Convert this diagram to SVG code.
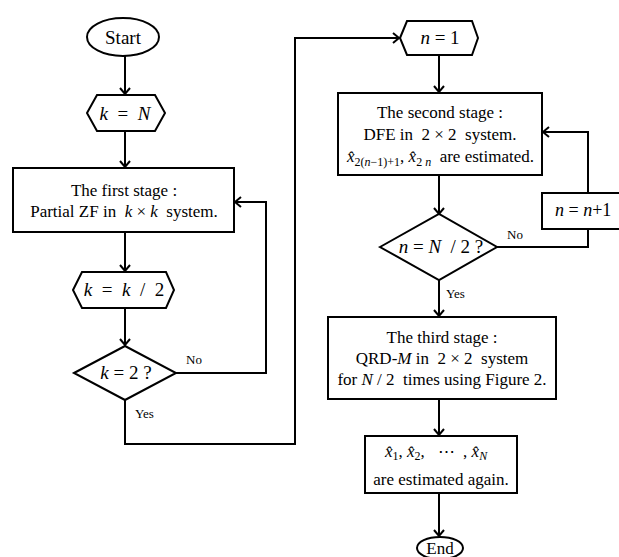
<svg xmlns="http://www.w3.org/2000/svg" width="619" height="557" viewBox="0 0 619 557" font-family="'Liberation Serif', 'DejaVu Serif', 'Times New Roman', serif">
<defs>
<marker id="arr" markerUnits="userSpaceOnUse" markerWidth="14" markerHeight="14" viewBox="-8 -7 10 14" refX="0" refY="0" orient="auto">
<path d="M-6,-5 L0,0 L-6,5" fill="none" stroke="#000" stroke-width="2"/>
</marker>
</defs>
<style>
.s{fill:#fff;stroke:#000;stroke-width:2}
.c{fill:none;stroke:#000;stroke-width:2}
.a{marker-end:url(#arr)}
.t{font-family:'Liberation Serif','DejaVu Serif','Times New Roman',serif;fill:#000;font-size:17px}
.b{font-size:19px}
.m{text-anchor:middle}
.i{font-style:italic}
.l{font-size:13px}
.sub{font-size:12px}
</style>
<rect width="619" height="557" fill="#fff"/>
<g id="connectors">
<path class="c a" d="M125,56 L125,94"/>
<path class="c a" d="M125,131 L125,167"/>
<path class="c a" d="M125,232 L125,271"/>
<path class="c a" d="M125,308 L125,345"/>
<path class="c a" d="M176,373 L266,373 L266,202 L235,202"/>
<path class="c a" d="M125,400 L125,444 L295,444 L295,38 L399,38"/>
<path class="c a" d="M439,55 L439,92"/>
<path class="c a" d="M439,175 L439,214"/>
<path class="c" d="M497,247 L588,247 L588,229"/>
<path class="c a" d="M588,193 L588,132 L543,132"/>
<path class="c a" d="M439,280 L439,316"/>
<path class="c a" d="M439,399 L439,435"/>
<path class="c a" d="M439,493 L439,536"/>
<text class="t l" x="186" y="364">No</text>
<text class="t l" x="135" y="418">Yes</text>
<text class="t l" x="507" y="239">No</text>
<text class="t l" x="446" y="298">Yes</text>
</g>
<g id="start">
<ellipse class="s" cx="123" cy="37" rx="36" ry="19"/>
<text class="t b m" x="123" y="44">Start</text>
</g>
<g id="k-eq-N">
<path class="s" d="M87,113 L97,95 L155,95 L165,113 L155,131 L97,131 Z"/>
<text class="t b m" x="125" y="120" xml:space="preserve"><tspan class="i">k</tspan>  =  <tspan class="i">N</tspan></text>
</g>
<g id="first-stage">
<rect class="s" x="13" y="168" width="221" height="64"/>
<text class="t m" x="124" y="196">The first stage :</text>
<text class="t m" x="124" y="217" xml:space="preserve">Partial ZF in  <tspan class="i">k</tspan> × <tspan class="i">k</tspan>  system.</text>
</g>
<g id="k-half">
<path class="s" d="M73,290 L82,272 L166,272 L174,290 L166,308 L82,308 Z"/>
<text class="t b m" x="124" y="296" xml:space="preserve"><tspan class="i">k</tspan>  =  <tspan class="i">k</tspan>  /  2</text>
</g>
<g id="k-eq-2">
<path class="s" d="M74,373 L125,346 L176,373 L125,400 Z"/>
<text class="t b m" x="126" y="379"><tspan class="i">k</tspan> = 2 ?</text>
</g>
<g id="n-eq-1">
<path class="s" d="M400,38 L407,21 L472,21 L478,38 L472,55 L407,55 Z"/>
<text class="t b m" x="440" y="44"><tspan class="i">n</tspan> = 1</text>
</g>
<g id="second-stage">
<rect class="s" x="338" y="93" width="204" height="82"/>
<text class="t m" x="440" y="118">The second stage :</text>
<text class="t m" x="440" y="140" xml:space="preserve">DFE in  2 × 2  system.</text>
<text class="t" x="347" y="162" xml:space="preserve"><tspan class="i">x̂</tspan><tspan class="sub" dy="4">2(</tspan><tspan class="sub i">n</tspan><tspan class="sub">−1)+1</tspan><tspan dy="-4">, </tspan><tspan class="i">x̂</tspan><tspan class="sub" dy="4">2</tspan><tspan class="sub i"> n</tspan><tspan dy="-4">  are estimated.</tspan></text>
</g>
<g id="n-eq-N2">
<path class="s" d="M380,247 L439,214 L497,247 L439,280 Z"/>
<text class="t b m" x="441" y="253" xml:space="preserve"><tspan class="i">n</tspan> = <tspan class="i">N</tspan>  / 2 ?</text>
</g>
<g id="n-inc">
<rect class="s" x="542" y="193" width="90" height="36"/>
<text class="t" x="555" y="216" font-size="18" style="font-size:18px"><tspan class="i">n</tspan> = <tspan class="i">n</tspan>+1</text>
</g>
<g id="third-stage">
<rect class="s" x="328" y="317" width="228" height="82"/>
<text class="t m" x="442" y="343">The third stage :</text>
<text class="t m" x="442" y="364" xml:space="preserve">QRD-<tspan class="i">M</tspan> in  2 × 2  system</text>
<text class="t m" x="442" y="385" xml:space="preserve">for <tspan class="i">N</tspan> / 2  times using Figure 2.</text>
</g>
<g id="estimated-again">
<rect class="s" x="365" y="436" width="152" height="57"/>
<text class="t" x="385" y="457" xml:space="preserve"><tspan class="i">x̂</tspan><tspan class="sub" dy="3">1</tspan><tspan dy="-3">, </tspan><tspan class="i">x̂</tspan><tspan class="sub" dy="3">2</tspan><tspan dy="-3">,   ⋯  , </tspan><tspan class="i">x̂</tspan><tspan class="sub i" dy="3">N</tspan></text>
<text class="t m" x="441" y="485">are estimated again.</text>
</g>
<g id="end">
<ellipse class="s" cx="440" cy="548" rx="23" ry="11"/>
<text class="t m" x="440" y="554">End</text>
</g>
</svg>
